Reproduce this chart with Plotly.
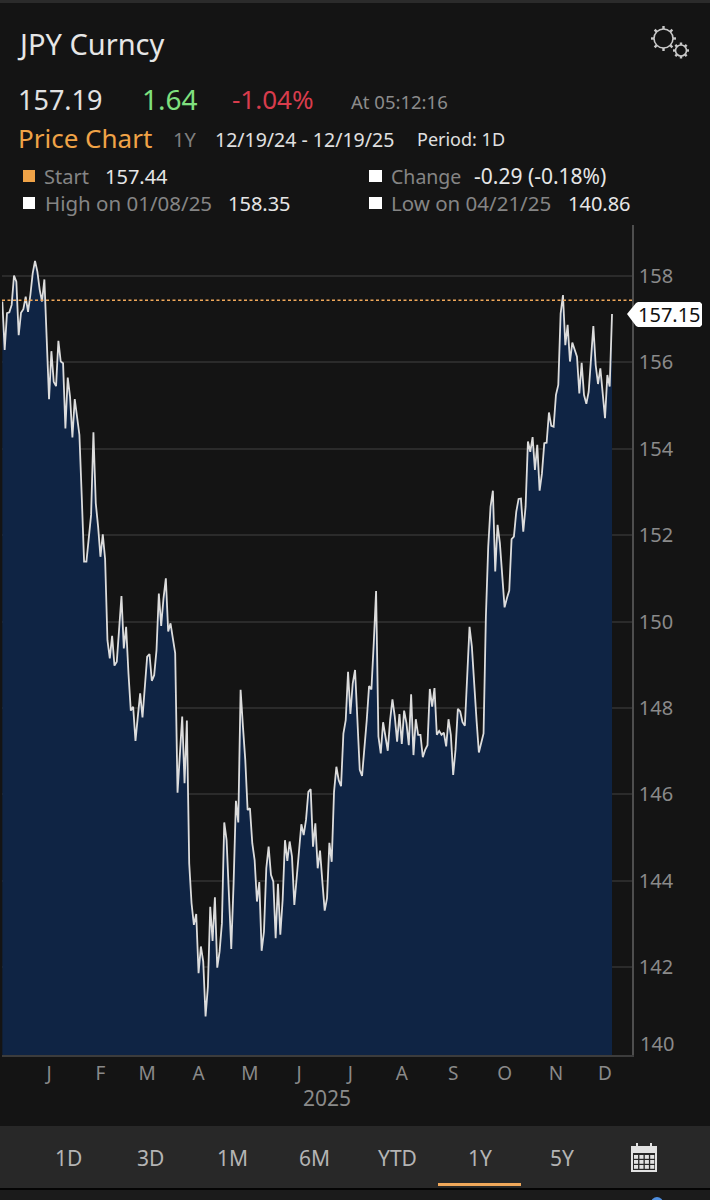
import math
import pandas as pd
import plotly.graph_objects as go

# ---------- data ----------
trading_days = pd.bdate_range("2024-12-19", "2025-12-19").strftime("%Y-%m-%d").tolist()
price_close = [
    157.41, 156.29, 157.14, 157.16, 157.33, 158.01, 157.87, 156.63, 157.15, 157.23,
    157.52, 157.17, 157.56, 158.06, 158.35, 158.10, 157.68, 157.41, 157.92, 156.52,
    155.15, 156.26, 155.55, 155.45, 156.50, 156.02, 155.98, 154.47, 155.65, 155.20,
    154.26, 155.15, 154.74, 154.32, 152.89, 151.39, 151.39, 151.89, 152.47, 154.38,
    152.74, 152.20, 151.50, 152.02, 151.45, 149.57, 149.15, 149.67, 148.98, 149.07,
    149.81, 150.59, 149.38, 149.88, 148.80, 147.94, 148.03, 147.24, 147.80, 148.34,
    147.78, 148.57, 149.19, 149.25, 148.63, 148.76, 149.34, 150.65, 149.90, 150.54,
    151.00, 149.77, 149.96, 149.61, 149.27, 146.04, 146.87, 147.80, 146.26, 147.71,
    144.40, 143.48, 142.98, 143.23, 141.86, 142.48, 142.13, 140.86, 141.55, 143.40,
    142.61, 143.62, 141.99, 142.36, 143.02, 145.35, 144.94, 143.56, 142.42, 143.94,
    145.85, 145.35, 148.42, 147.57, 146.80, 145.64, 145.68, 144.87, 144.48, 143.52,
    143.97, 142.38, 142.82, 144.29, 144.79, 144.14, 143.98, 142.67, 143.93, 142.75,
    143.56, 144.94, 144.46, 144.91, 144.56, 143.44, 144.10, 144.71, 145.31, 145.06,
    145.41, 146.06, 146.12, 144.79, 145.33, 144.29, 144.70, 143.98, 143.31, 143.60,
    144.88, 144.44, 146.06, 146.64, 146.33, 146.19, 147.41, 147.72, 148.84, 147.86,
    148.57, 148.88, 147.57, 146.57, 146.43, 147.03, 147.72, 148.51, 148.43, 149.50,
    150.71, 147.34, 146.95, 147.67, 147.34, 147.01, 147.72, 148.20, 147.80, 147.22,
    147.86, 147.17, 147.94, 147.65, 147.14, 148.32, 146.91, 147.74, 147.38, 147.38,
    146.86, 147.03, 147.14, 148.44, 148.03, 148.46, 147.38, 147.47, 147.38, 147.43,
    147.11, 147.74, 147.38, 146.45, 147.03, 147.98, 147.92, 147.67, 147.59, 148.88,
    149.88, 149.42, 148.49, 147.72, 146.97, 147.20, 147.41, 150.11, 151.73, 152.66,
    153.03, 151.16, 152.24, 151.81, 150.96, 150.33, 150.54, 150.72, 151.91, 151.97,
    152.54, 152.84, 152.85, 152.08, 152.66, 154.17, 153.93, 154.27, 153.51, 154.09,
    153.03, 153.43, 154.13, 154.14, 154.84, 154.53, 154.51, 155.25, 155.48, 157.13,
    157.56, 156.40, 156.87, 156.02, 156.46, 156.29, 156.13, 155.28, 155.99, 155.25,
    155.04, 155.32, 156.05, 156.84, 155.94, 155.50, 155.86, 155.21, 154.71, 155.71,
    155.44, 157.12,
]
start_value = 157.44
last_label = "157.15"
y_ticks = [142, 144, 146, 148, 150, 152, 154, 156, 158]
month_ticks = ["2025-01-16", "2025-02-17", "2025-03-17", "2025-04-16", "2025-05-16", "2025-06-16",
               "2025-07-16", "2025-08-15", "2025-09-16", "2025-10-16", "2025-11-17", "2025-12-16"]
month_labels = ["J", "F", "M", "A", "M", "J", "J", "A", "S", "O", "N", "D"]
range_buttons = ["1D", "3D", "1M", "6M", "YTD", "1Y", "5Y"]

# ---------- page geometry ----------
W, H = 710, 1200
FONT = "Noto Sans"
BG = "#141414"
PL, PR, PT, PB = 2, 632, 225, 1055
X0_PX, DX_PX = 2.33, 2.336
px = lambda x: x / W
py = lambda y: 1 - y / H

shapes, notes = [], []


def text(t, x, y, size, color, anchor="left"):
    notes.append(dict(text=t, x=px(x), y=py(y), xref="paper", yref="paper", showarrow=False,
                      xanchor=anchor, yanchor="middle", borderpad=0, borderwidth=0,
                      font=dict(family=FONT, size=size, color=color)))


def rect(x0, y0, x1, y1, fill, layer="above"):
    shapes.append(dict(type="rect", xref="paper", yref="paper", x0=px(x0), x1=px(x1), y0=py(y0), y1=py(y1),
                       fillcolor=fill, line=dict(width=0), layer=layer))


def poly(points, fill="rgba(0,0,0,0)", line=None, width=0):
    d = "M " + " L ".join(f"{px(a):.5f} {py(b):.5f}" for a, b in points) + " Z"
    shapes.append(dict(type="path", xref="paper", yref="paper", path=d, fillcolor=fill,
                       line=dict(color=line or fill, width=width), layer="above"))


def gear(cx, cy, r_ring, r_tooth, teeth, color):
    shapes.append(dict(type="circle", xref="paper", yref="paper", x0=px(cx - r_ring), x1=px(cx + r_ring),
                       y0=py(cy - r_ring), y1=py(cy + r_ring), fillcolor="rgba(0,0,0,0)",
                       line=dict(color=color, width=1.6), layer="above"))
    for k in range(teeth):
        a = k * 2 * math.pi / teeth
        shapes.append(dict(type="line", xref="paper", yref="paper",
                           x0=px(cx + r_ring * math.cos(a)), y0=py(cy + r_ring * math.sin(a)),
                           x1=px(cx + r_tooth * math.cos(a)), y1=py(cy + r_tooth * math.sin(a)),
                           line=dict(color=color, width=2.4), layer="above"))


# ---------- page chrome ----------
rect(0, 0, W, 3, "#2b2b2b", "below")
rect(0, 1126, W, 1188, "#282828", "below")
rect(0, 1188, W, 1190, "#050505", "below")
rect(0, 1190, W, H, "#1b1b1b", "below")
shapes.append(dict(type="circle", xref="paper", yref="paper", x0=px(651), x1=px(663), y0=py(1197), y1=py(1209),
                   fillcolor="#4f8fe0", line=dict(width=0), layer="above"))

# header
text("JPY Curncy", 17, 43, 29, "#e6e6e6")
text("157.19", 18, 99, 27, "#e2e2e2")
text("1.64", 142, 99, 28, "#7fe07f")
text("-1.04%", 232, 99, 26, "#d83c4c")
text("At 05:12:16", 351, 102, 18.5, "#8c8c8c")
text("Price Chart", 18, 138, 26, "#f0a347")
text("1Y", 173, 139, 20, "#808080")
text("12/19/24 - 12/19/25", 215, 139, 19.5, "#e0e0e0")
text("Period: 1D", 417, 139, 18, "#e0e0e0")

rect(23, 170, 35, 182, "#f0a347")
text("Start", 44, 176, 20, "#858585")
text("157.44", 105, 176, 20, "#e6e6e6")
rect(369, 170, 382, 182, "#ffffff")
text("Change", 391, 176, 19.5, "#858585")
text("-0.29 (-0.18%)", 474, 176, 21, "#e6e6e6")
rect(23, 197, 35, 209, "#ffffff")
text("High on 01/08/25", 45, 203, 20.5, "#858585")
text("158.35", 228, 203, 20, "#e6e6e6")
rect(369, 197, 382, 209, "#ffffff")
text("Low on 04/21/25", 391, 203, 20.5, "#858585")
text("140.86", 568, 203, 20, "#e6e6e6")

gear(663.5, 38.5, 9.5, 12.5, 8, "#c8c8c8")
gear(681, 50.5, 5.5, 8, 8, "#c8c8c8")

# chart extras
text("140", 640, 1043, 20, "#8a8a8a")
text("2025", 327, 1098, 21, "#8a8a8a", "center")
shapes.append(dict(type="line", xref="paper", yref="y", x0=px(PL), x1=px(PR), y0=start_value, y1=start_value,
                   line=dict(color="#f0a85a", width=1.5, dash="3px,2.5px"), layer="above"))
poly([(627, 314), (636, 303), (638, 302), (700, 302), (702, 304), (702, 325), (700, 327), (638, 327), (636, 326)],
     fill="#ffffff")
text(last_label, 638, 314.5, 20, "#101010")

# footer
for label, cx in zip(range_buttons, [68, 150, 232, 314, 397, 480, 562]):
    text(label, cx, 1158, 21, "#b4b4b4", "center")
rect(438, 1183, 521, 1186, "#f0a85a")

# calendar icon
rect(631, 1146, 657, 1172, "#e2e2e2")
rect(636, 1143, 638, 1148, "#e2e2e2")
rect(650, 1143, 652, 1148, "#e2e2e2")
rect(633, 1153, 655, 1170, "#282828")
for col in range(4):
    for row in range(3):
        x = 634 + col * 5.4
        y = 1155 + row * 5
        rect(x, y, x + 4.1, y + 3.8, "#e2e2e2")

# ---------- figure ----------
fig = go.Figure()
fig.add_trace(go.Scatter(x=trading_days, y=price_close, mode="lines", fill="tozeroy",
                         fillcolor="#0f2444", line=dict(color="#dcdcdc", width=1.8),
                         hoverinfo="skip", showlegend=False))
i_left = (PL - X0_PX) / DX_PX
i_right = (PR - X0_PX) / DX_PX
ppu = 43.2  # pixels per yen
y_hi = 158 + (276 - PT) / ppu
y_lo = 158 - (PB - 276) / ppu
fig.update_layout(
    width=W, height=H, margin=dict(l=0, r=0, t=0, b=0), autosize=False,
    paper_bgcolor=BG, plot_bgcolor=BG, font=dict(family=FONT),
    shapes=shapes, annotations=notes, showlegend=False,
    xaxis=dict(type="category", domain=[px(PL), px(PR)], range=[i_left, i_right], showgrid=False, zeroline=False,
               showline=True, linecolor="#3c3c3c", linewidth=2,
               tickmode="array", tickvals=month_ticks, ticktext=month_labels,
               ticks="", tickfont=dict(family=FONT, size=19, color="#8a8a8a"), tickangle=0),
    yaxis=dict(domain=[py(PB), py(PT)], range=[y_lo, y_hi], side="right", showgrid=True, gridcolor="#2b2b2b",
               gridwidth=1.5, zeroline=False, showline=True, linecolor="#4e4e4e", linewidth=1.5,
               tickmode="array", tickvals=y_ticks, ticktext=[str(v) for v in y_ticks],
               ticks="outside", ticklen=1, tickcolor="rgba(0,0,0,0)",
               tickfont=dict(family=FONT, size=20, color="#8a8a8a")),
)
fig.write_html("out.html", config=dict(displayModeBar=False),
               post_script="document.body.style.margin='0';document.body.style.background='#141414';")
